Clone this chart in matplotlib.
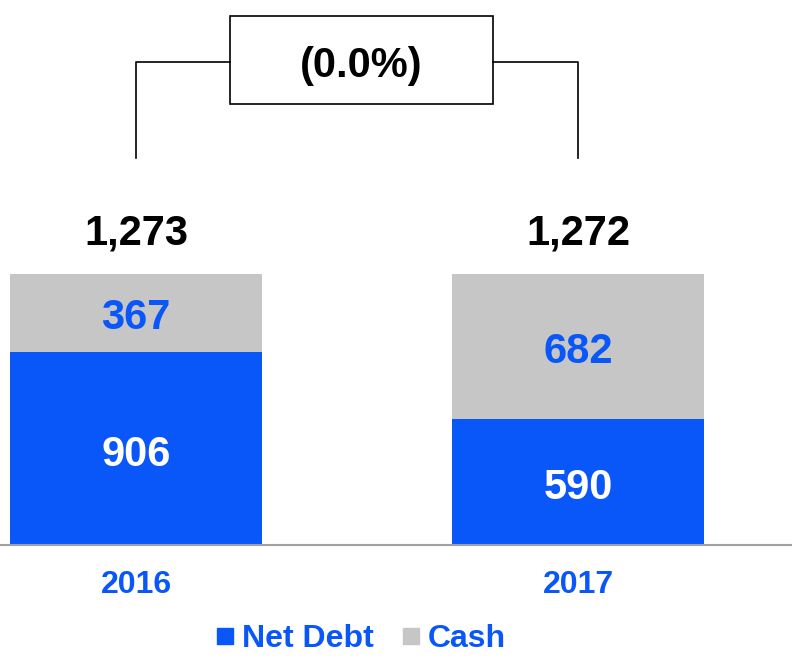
import matplotlib
matplotlib.use('Agg')
import matplotlib.pyplot as plt
import matplotlib.patches as mpatches
from matplotlib.lines import Line2D

# Daten
years = ['2016', '2017']
net_debt = [906, 590]
cash = [367, 682]
totals = ['1,273', '1,272']
change_label = '(0.0%)'

blue = '#0957F9'
grey = '#C6C6C6'

plt.rcParams['font.family'] = ['Liberation Sans', 'DejaVu Sans']

fig = plt.figure(figsize=(7.92, 6.57), dpi=100)
ax = fig.add_axes([0, 112 / 657, 1, 545 / 657])

x = [0, 1]
bw = 0.57
ax.bar(x, net_debt, width=bw, color=blue, zorder=2)
ax.bar(x, cash, width=bw, bottom=net_debt, color=grey, zorder=2)

ax.set_xlim(-0.308, 1.484)
ax.set_ylim(0, 2558)

lbl = dict(textcoords='offset points', ha='center', va='center',
           fontsize=30, fontweight='bold')

# Segment- und Summenwerte
for i in range(len(x)):
    ax.annotate(str(net_debt[i]), (x[i], net_debt[i] / 2), xytext=(0, -4.5),
                color='white', **lbl)
    ax.annotate(str(cash[i]), (x[i], net_debt[i] + cash[i] / 2), xytext=(0, -3.5),
                color=blue, **lbl)
    ax.annotate(totals[i], (x[i], net_debt[i] + cash[i]), xytext=(0, 29),
                color='black', **lbl)

# Klammer mit Veränderung
y_low, y_line = 1816, 2267
box_l, box_r = 0.2127, 0.808
box_b, box_t = 2069, 2482
ax.plot([x[0], x[0], box_l], [y_low, y_line, y_line], color='black', lw=1.2, zorder=3)
ax.plot([box_r, x[1], x[1]], [y_line, y_line, y_low], color='black', lw=1.2, zorder=3)
ax.add_patch(mpatches.Rectangle((box_l, box_b), box_r - box_l, box_t - box_b,
                                fill=False, edgecolor='black', lw=1.2, zorder=3))
ax.annotate(change_label, ((box_l + box_r) / 2, (box_b + box_t) / 2), xytext=(0, -4),
            color='black', **lbl)

# Achsen
for s in ['top', 'right', 'left']:
    ax.spines[s].set_visible(False)
ax.spines['bottom'].set_color('#A0A0A0')
ax.spines['bottom'].set_linewidth(1.5)
ax.set_yticks([])
ax.set_xticks(x)
ax.set_xticklabels(years, fontsize=23, fontweight='bold', color=blue)
ax.tick_params(axis='x', length=0, pad=18)

# Legende
handles = [Line2D([], [], marker='s', ls='', color=blue, markersize=11),
           Line2D([], [], marker='s', ls='', color=grey, markersize=11)]
leg = fig.legend(handles, ['Net Debt', 'Cash'], loc='center', bbox_to_anchor=(0.4564, 18 / 657),
                 ncol=2, frameon=False, fontsize=23, handlelength=0.5, handletextpad=0.3,
                 columnspacing=0.9, borderaxespad=0, borderpad=0)
for t in leg.get_texts():
    t.set_color(blue)
    t.set_fontweight('bold')

plt.savefig('out.png', dpi=100)
